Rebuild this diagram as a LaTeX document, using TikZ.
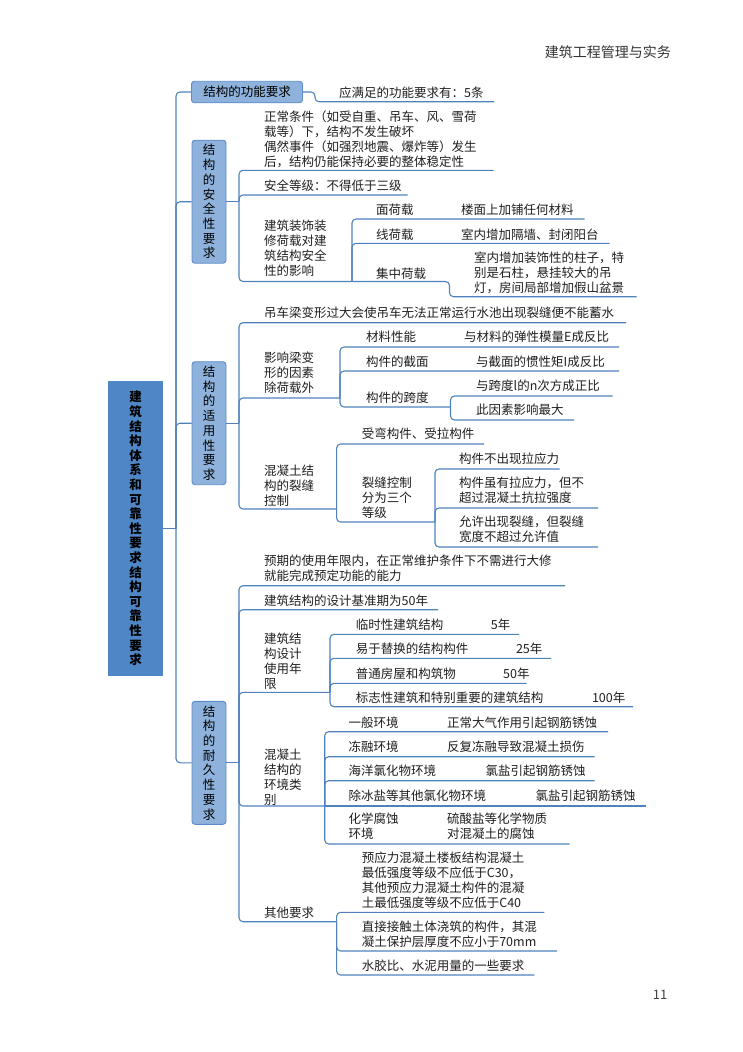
\documentclass[tikz,border=0pt]{standalone}
\usepackage{fontspec}
\newfontfamily\cjk{Noto Sans CJK SC}
\definecolor{linkblue}{HTML}{4F81BD}
\definecolor{rootblue}{HTML}{4F86C6}
\definecolor{boxblue}{HTML}{8EB2DB}
\definecolor{boxedge}{HTML}{5B8BC8}
\tikzset{
  link/.style={draw=linkblue, line width=1.1pt, rounded corners=4pt},
  txt/.style={anchor=west, inner sep=0pt, align=left, text=black!88,
    font=\cjk\fontsize{12.5}{15}\selectfont},
  lvone/.style={draw=boxedge, fill=boxblue, line width=0.9pt, rounded corners=3pt,
    inner sep=0pt, align=center, minimum width=34pt, minimum height=123pt,
    font=\cjk\fontsize{12.5}{14.7}\selectfont},
  rootbox/.style={fill=rootblue, inner sep=0pt, align=center,
    minimum width=55pt, minimum height=295pt,
    font=\cjk\bfseries\fontsize{12.5}{14.6}\selectfont},
}

\begin{document}
\begin{tikzpicture}[x=1pt, y=-1pt]
\useasboundingbox (0,0) rectangle (743,1052);

% header and page number
\node[anchor=east, inner sep=0pt, font=\cjk\fontsize{14}{16}\selectfont, text=black!80] (title) at (671,52) {建筑工程管理与实务};
\node[inner sep=0pt, font=\cjk\fontsize{13}{15}\selectfont, text=black!75] (pnum) at (660,995) {11};

% root and first level
\node[rootbox] (root) at (135.5,528.5) {建\\筑\\结\\构\\体\\系\\和\\可\\靠\\性\\要\\求\\结\\构\\可\\靠\\性\\要\\求};
\coordinate (j0) at (176,528.5);
\draw[link] (root.east) -- (j0);
\node[lvone, minimum width=111pt, minimum height=21.5pt] (fun) at (247,92) {结构的功能要求};
\node[lvone] (saf) at (209,201.7) {结\\构\\的\\安\\全\\性\\要\\求};
\node[lvone] (use) at (209,423.2) {结\\构\\的\\适\\用\\性\\要\\求};
\node[lvone] (dur) at (209,762.8) {结\\构\\的\\耐\\久\\性\\要\\求};
\foreach \n in {fun,saf,use,dur}
  \draw[link] (j0) |- (\n.west);

% function
\coordinate (jf) at (315,92);
\coordinate (funa-u) at (494,101.7);
\node[txt] (funa) at (339,92.3) {应满足的功能要求有：5条};
\draw[link] (fun.east) -- (jf) |- (funa-u);

% safety
\coordinate (js) at (239,201.7);
\draw[link] (saf.east) -- (js);
\node[txt] (safa) at (264,139.2) {正常条件（如受自重、吊车、风、雪荷\\载等）下，结构不发生破坏\\偶然事件（如强烈地震、爆炸等）发生\\后，结构仍能保持必要的整体稳定性};
\node[txt] (safb) at (264,185.7) {安全等级：不得低于三级};
\node[txt] (safc) at (264,248.7) {建筑装饰装\\修荷载对建\\筑结构安全\\性的影响};
\coordinate (safa-u) at (493.5,170.3);
\coordinate (safb-u) at (407.5,195);
\coordinate (safc-u) at (352,281.5);
\foreach \n in {safa,safb,safc}
  \draw[link] (js) |- (\n-u);

\node[txt] (mian) at (376,209.3) {面荷载};
\node[txt] (miana) at (461,209.3) {楼面上加铺任何材料};
\node[txt] (xian) at (376,234.3) {线荷载};
\node[txt] (xiana) at (461,234.3) {室内增加隔墙、封闭阳台};
\node[txt] (jizh) at (376,273.3) {集中荷载};
\node[txt] (jizha) at (474,273.3) {室内增加装饰性的柱子，特\\别是石柱，悬挂较大的吊\\灯，房间局部增加假山盆景};
\coordinate (mian-u) at (584.6,219);
\coordinate (xian-u) at (609.7,243.3);
\coordinate (jizh-u) at (449.5,281.5);
\coordinate (jizha-u) at (636.6,296.7);
\foreach \n in {mian,xian}
  \draw[link] (safc-u) |- (\n-u);
\draw[link] (safc-u) -- (jizh-u) |- (jizha-u);

% serviceability
\coordinate (ju) at (239,423.2);
\draw[link] (use.east) -- (ju);
\node[txt] (usea) at (264,313) {吊车梁变形过大会使吊车无法正常运行水池出现裂缝便不能蓄水};
\node[txt] (useb) at (264,373) {影响梁变\\形的因素\\除荷载外};
\node[txt] (usec) at (264,485.5) {混凝土结\\构的裂缝\\控制};
\coordinate (usea-u) at (626,322.7);
\coordinate (useb-u) at (340,398);
\coordinate (usec-u) at (336.6,509);
\foreach \n in {usea,useb,usec}
  \draw[link] (ju) |- (\n-u);

\node[txt] (cail) at (366,337) {材料性能};
\node[txt] (caila) at (464,337) {与材料的弹性模量E成反比};
\node[txt] (jiem) at (366,361.3) {构件的截面};
\node[txt] (jiema) at (476,361.3) {与截面的惯性矩I成反比};
\node[txt] (kuad) at (366,398) {构件的跨度};
\node[txt] (kuada) at (476,386) {与跨度l的n次方成正比};
\node[txt] (kuadb) at (476,410) {此因素影响最大};
\coordinate (cail-u) at (619,347);
\coordinate (jiem-u) at (619,371);
\coordinate (kuad-u) at (450.5,407);
\coordinate (kuada-u) at (612.5,396);
\coordinate (kuadb-u) at (574,420);
\foreach \n in {cail,jiem,kuad}
  \draw[link] (useb-u) |- (\n-u);
\foreach \n in {kuada,kuadb}
  \draw[link] (kuad-u) |- (\n-u);

\node[txt] (shou) at (361.6,434) {受弯构件、受拉构件};
\node[txt] (lief) at (361.6,497.5) {裂缝控制\\分为三个\\等级};
\coordinate (shou-u) at (484,444);
\coordinate (lief-u) at (435,522);
\foreach \n in {shou,lief}
  \draw[link] (usec-u) |- (\n-u);
\node[txt] (lva) at (459,459) {构件不出现拉应力};
\node[txt] (lvb) at (459,490.5) {构件虽有拉应力，但不\\超过混凝土抗拉强度};
\node[txt] (lvc) at (459,529) {允许出现裂缝，但裂缝\\宽度不超过允许值};
\coordinate (lva-u) at (559.5,469);
\coordinate (lvb-u) at (598,508);
\coordinate (lvc-u) at (598,547);
\foreach \n in {lva,lvb,lvc}
  \draw[link] (lief-u) |- (\n-u);

% durability
\coordinate (jd) at (239,762.8);
\draw[link] (dur.east) -- (jd);
\node[txt] (dura) at (264,568) {预期的使用年限内，在正常维护条件下不需进行大修\\就能完成预定功能的能力};
\node[txt] (durb) at (264,600.7) {建筑结构的设计基准期为50年};
\node[txt] (durc) at (264,661) {建筑结\\构设计\\使用年\\限};
\node[txt] (durd) at (264,777) {混凝土\\结构的\\环境类\\别};
\node[txt] (dure) at (264,912.3) {其他要求};
\coordinate (dura-u) at (565,585.7);
\coordinate (durb-u) at (438,609.7);
\coordinate (durc-u) at (330,692.3);
\coordinate (durd-u) at (324.7,806);
\coordinate (dure-u) at (336.6,921.7);
\foreach \n in {dura,durb,durc,durd,dure}
  \draw[link] (jd) |- (\n-u);

\node[txt] (lin) at (355.6,625) {临时性建筑结构};
\node[txt] (lina) at (490.7,625) {5年};
\node[txt] (yi) at (355.6,648.3) {易于替换的结构构件};
\node[txt] (yia) at (515.8,648.3) {25年};
\node[txt] (pu) at (355.6,673.3) {普通房屋和构筑物};
\node[txt] (pua) at (503,673.3) {50年};
\node[txt] (biao) at (355.6,697.3) {标志性建筑和特别重要的建筑结构};
\node[txt] (biaoa) at (591.8,697.3) {100年};
\coordinate (lin-u) at (519,634.3);
\coordinate (yi-u) at (551,658.3);
\coordinate (pu-u) at (526.5,683.3);
\coordinate (biao-u) at (633,706.7);
\foreach \n in {lin,yi,pu,biao}
  \draw[link] (durc-u) |- (\n-u);

\node[txt] (yb) at (348.4,722.7) {一般环境};
\node[txt] (yba) at (447,722.7) {正常大气作用引起钢筋锈蚀};
\node[txt] (dr) at (348.4,746.7) {冻融环境};
\node[txt] (dra) at (447,746.7) {反复冻融导致混凝土损伤};
\node[txt] (hy) at (348.4,771) {海洋氯化物环境};
\node[txt] (hya) at (485.3,771) {氯盐引起钢筋锈蚀};
\node[txt] (cb) at (348.4,795.7) {除冰盐等其他氯化物环境};
\node[txt] (cba) at (535.5,795.7) {氯盐引起钢筋锈蚀};
\node[txt] (hx) at (348.4,826.7) {化学腐蚀\\环境};
\node[txt] (hxa) at (447,826.7) {硫酸盐等化学物质\\对混凝土的腐蚀};
\coordinate (yb-u) at (608,731.7);
\coordinate (dr-u) at (594.6,756.7);
\coordinate (hy-u) at (594.6,780.7);
\coordinate (cb-u) at (645.5,806);
\coordinate (hx-u) at (569.5,844);
\foreach \n in {yb,dr,hy,hx}
  \draw[link] (durd-u) |- (\n-u);
\draw[link] (durd-u) -- (cb-u);

\node[txt] (ya) at (361.6,880.6) {预应力混凝土楼板结构混凝土\\最低强度等级不应低于C30，\\其他预应力混凝土构件的混凝\\土最低强度等级不应低于C40};
\node[txt] (zj) at (361.6,934.5) {直接接触土体浇筑的构件，其混\\凝土保护层厚度不应小于70mm};
\node[txt] (sj) at (361.6,966) {水胶比、水泥用量的一些要求};
\coordinate (ya-u) at (544.4,912.3);
\coordinate (zj-u) at (557,951);
\coordinate (sj-u) at (534.4,975);
\foreach \n in {ya,zj,sj}
  \draw[link] (dure-u) |- (\n-u);
\end{tikzpicture}
\end{document}
